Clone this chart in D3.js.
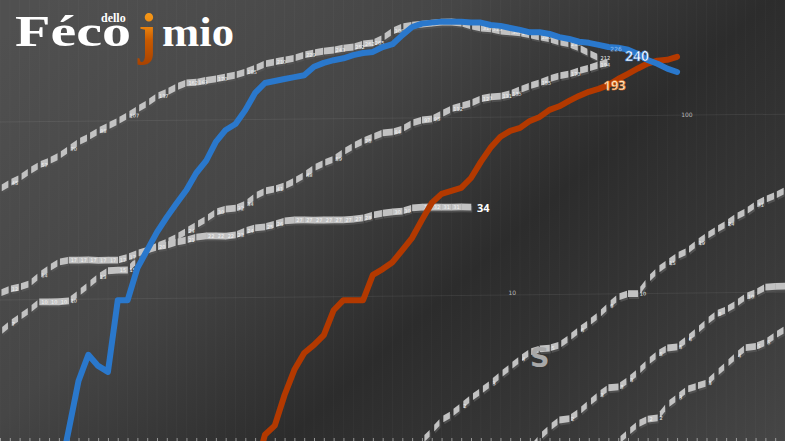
<!DOCTYPE html>
<html><head><meta charset="utf-8">
<script src="https://cdn.jsdelivr.net/npm/d3@7"></script>
<style>html,body{margin:0;padding:0;background:#3a3a3a;overflow:hidden}svg{display:block}</style>
</head><body><svg id="c" width="785" height="441"></svg>
<script>
// ---------- data ----------
const days = d3.range(0, 81);
const yTicks = [10, 100];

const blueStart = 6;
const blueValues = [1.0,1.84,3.47,4.87,4.21,3.89,9.81,9.8,14.85,18.7,23.6,28.6,34.2,40.5,50.4,58.8,75.1,87.6,94.5,113,141,160,164,168,172,176,196,206,213,218,227,233,236,251,260,292,324,338,342,346,345,345,341,340,329,325,316,308,298,298,291,279,272,262,258,251,244,241,235,222,205,195,183,175];
const blueLabel = "240";

const orangeStart = 26;
const orangeValues = [1.06,1.69,1.9,2.82,3.9,4.84,5.37,6.09,8.39,9.54,9.53,9.51,13.2,14.2,15.5,18.1,21.2,26.7,33.2,37.3,38.7,40.2,45.6,56.1,67.4,77.4,83.5,86.6,94.7,99.6,109,114,122,130,137,142,149,161,172,184,196,203,205,213];
const orangeLabel = "193";

const grayAStart = 0;
const grayAValues = [42.1,45.4,48.3,52.8,57,60,64,69.9,76.4,81.4,87.9,93.6,99.6,107,116,125,137,144,154,162,163,167,170,174,178,185,194,205,210,215,220,229,235,240,243,249,252,262,265,282,308,325,332,336,340,344,344,339,326,317,313,304,300,296,288,280,273,262,255,242,226,212];
const grayBStart = 0;
const grayBValues = [6.6,7.33,8.0,8.75,9.7,9.7,9.7,9.8,10.8,12,13.3,14.4,14.5,14.5,16.7,18.7,19.7,20.7,22.1,23.8,25.7,27.8,30.3,31.5,31.8,33.5,37.1,39.6,40.6,42.2,44.9,48.4,53,56.4,59.4,64.9,70.1,74.7,78.6,82.6,83.6,86.7,93.6,97.2,98.4,105,112,116,120,127,130,131,135,142,149,155,163,169,173,180,186,194,201];
const grayCStart = 0;
const grayCValues = [10.9,11.5,11.8,12.3,13.7,15,16.2,16.6,16.6,16.6,16.5,16.5,16.5,17.1,18,18.7,19.5,19.9,20.7,21.2,22,22.3,22.3,22.2,22.5,23.7,24.6,24.9,25.8,26.8,27.1,27.1,27,27,27,27,27.2,27.6,28.6,29.3,29.7,30,31.2,31.5,31.5,31.4,31.4,31.4,31.3];
const grayCLabel = "34";
const grayDStart = 43;
const grayDValues = [1.53,1.74,2.0,2.16,2.39,2.65,2.9,3.2,3.56,3.94,4.36,4.76,4.95,5.0,5.2,5.69,6.3,6.89,7.62,8.58,9.6,10,10,11.9,13.5,14.8,16.2,17.2,19.1,20.9,22.6,24.4,26.7,28.5,31.2,33.3,35,37.4];
const grayEStart = 54;
const grayEValues = [1.35,1.58,1.78,1.97,2.0,2.18,2.44,2.71,2.97,3.0,3.27,3.63,4.12,4.57,4.93,4.99,5.52,6.12,6.87,7.62,8.02,8.67,9.5,10,10.7,10.8,10.8];
const grayFStart = 62;
const grayFValues = [1.29,1.48,1.66,1.85,1.97,2.0,2.36,2.6,2.88,3.0,3.12,3.51,3.94,4.43,4.91,4.98,5.24,5.73,6.2];

// ---------- chart ----------
const W = 785, H = 441;
const svg = d3.select("#c");
const defs = svg.append("defs");

const bg = defs.append("linearGradient").attr("id","bg").attr("gradientUnits","userSpaceOnUse")
  .attr("x1",150).attr("y1",-100).attr("x2",785).attr("y2",600);
[[0,"#505050"],[0.3,"#464646"],[0.52,"#2c2c2c"],[0.75,"#3b3b3b"],[0.92,"#4a4a4a"]]
  .forEach(([o,c]) => bg.append("stop").attr("offset",o).attr("stop-color",c));
const jg = defs.append("linearGradient").attr("id","jg").attr("x1",0).attr("y1",0).attr("x2",0).attr("y2",1);
[[0,"#f7a21e"],[0.35,"#f08a10"],[0.6,"#c85a00"],[1,"#a84200"]].forEach(([o,c]) => jg.append("stop").attr("offset",o).attr("stop-color",c));

svg.append("rect").attr("width",W).attr("height",H).attr("fill","url(#bg)");

const x = d3.scaleLinear().domain([0, 80]).range([0, W]);
const y = d3.scaleLog().domain([1, 1000]).range([471, -63]);

// faint vertical stripes
svg.append("g").selectAll("line").data(days).join("line")
  .attr("x1", d => x(d)).attr("x2", d => x(d)).attr("y1", 0).attr("y2", H)
  .attr("stroke", "rgba(255,255,255,0.028)");

// bottom ticks
const ax = svg.append("g").attr("transform","translate(0,438)")
  .call(d3.axisBottom(x).tickValues(days).tickSize(3).tickFormat(""));
ax.select(".domain").remove();
ax.selectAll("line").attr("stroke","rgba(230,230,230,0.55)");

// plot group with slight perspective tilt
const plot = svg.append("g").attr("transform","matrix(1,-0.01,0,1,0,7)");

plot.append("g").selectAll("line").data(yTicks).join("line")
  .attr("x1",0).attr("x2",W).attr("y1",d=>y(d)).attr("y2",d=>y(d))
  .attr("stroke","rgba(255,255,255,0.07)");

svg.append("g").selectAll("text").data(yTicks).join("text")
  .attr("x", d => d === 100 ? x(70) : x(52.2))
  .attr("y", d => y(d) + 2)
  .attr("font-family","DejaVu Sans, sans-serif").attr("font-size",6)
  .attr("fill","#b8b8b8").attr("text-anchor","middle")
  .text(d => d);

function grayLine(start, values, skipLastLabel) {
  const pts = values.map((v,i) => [x(start+i), y(v), v]);
  const segs = [];
  for (let i = 0; i < pts.length-1; i++) {
    const [x0,y0] = pts[i], [x1,y1] = pts[i+1];
    const dy = Math.abs(y1-y0);
    const gap = dy < 1.5 ? 0 : Math.min(0.5, 0.15 + dy/28);
    const a = gap/2, b = 1-gap/2;
    segs.push([[x0+(x1-x0)*a, y0+(y1-y0)*a],[x0+(x1-x0)*b, y0+(y1-y0)*b]]);
  }
  const h = 3.4;
  const poly = s => `M${s[0][0]},${s[0][1]-h}L${s[1][0]+0.3},${s[1][1]-h}L${s[1][0]+0.3},${s[1][1]+h}L${s[0][0]},${s[0][1]+h}Z`;
  const g = plot.append("g");
  g.append("g").selectAll("path").data(segs).join("path")
    .attr("d", poly).attr("fill","#555555").attr("opacity",0.8).attr("transform","translate(1,2)");
  g.append("g").selectAll("path").data(segs).join("path")
    .attr("d", poly).attr("fill","#c2c2c2");
  const lab = pts.filter((p,i) => i > 0 && p[0] < 772 && p[1] < 428 &&
      !(skipLastLabel && i >= pts.length-2) &&
      (i % 3 === 1 || Math.abs(p[1]-pts[i-1][1]) < 1.5));
  g.append("g").selectAll("text").data(lab).join("text")
    .attr("x", p => p[0]+2).attr("y", p => p[1]+2)
    .attr("font-family","DejaVu Sans, sans-serif").attr("font-size",5)
    .attr("fill","#f2f2f2")
    .text(p => Math.round(p[2]));
  return pts;
}

grayLine(grayAStart, grayAValues);
grayLine(grayBStart, grayBValues);
const ptsC = grayLine(grayCStart, grayCValues, true);
grayLine(grayDStart, grayDValues);
grayLine(grayEStart, grayEValues);
grayLine(grayFStart, grayFValues);

const line = d3.line().x(d => x(d[0])).y(d => y(d[1]));
const blueData = blueValues.map((v,i) => [blueStart+i, v]);
const orangeData = orangeValues.map((v,i) => [orangeStart+i, v]);

plot.append("path").attr("d", line(orangeData)).attr("fill","none")
  .attr("stroke","#b33900").attr("stroke-width",6).attr("stroke-linejoin","round").attr("stroke-linecap","round");
plot.append("path").attr("d", line(blueData)).attr("fill","none")
  .attr("stroke","#2a78cc").attr("stroke-width",6).attr("stroke-linejoin","round").attr("stroke-linecap","round");

// end labels
const lastC = ptsC[ptsC.length-1];
plot.append("text").attr("x", lastC[0]+6).attr("y", lastC[1]+5)
  .attr("font-family","Open Sans, sans-serif").attr("font-weight","bold").attr("font-size",11)
  .attr("fill","#ffffff").text(grayCLabel);

plot.append("text").attr("x", x(63.7)).attr("y", y(240)+13)
  .attr("font-family","Open Sans, sans-serif").attr("font-weight","bold").attr("font-size",14)
  .attr("fill","#ffffff").attr("stroke","#2a78cc").attr("stroke-width",0.6).text(blueLabel);
plot.append("text").attr("x", x(62.2)).attr("y", y(240)+3)
  .attr("font-family","DejaVu Sans, sans-serif").attr("font-size",6)
  .attr("fill","#9cc4f0").text("226");

plot.append("text").attr("x", x(61.5)).attr("y", y(193)+25)
  .attr("font-family","Open Sans, sans-serif").attr("font-weight","bold").attr("font-size",13)
  .attr("fill","#ffe7c4").attr("stroke","#e06a10").attr("stroke-width",0.5).text(orangeLabel);

// stray glyph
svg.append("text").attr("x",530).attr("y",367)
  .attr("font-family","DejaVu Sans, sans-serif").attr("font-weight","bold").attr("font-size",27)
  .attr("fill","#a8a8a8").text("S");

// logo
const logo = svg.append("g");
logo.append("text").attr("x",15).attr("y",46).attr("textLength",116).attr("lengthAdjust","spacingAndGlyphs")
  .attr("font-family","Liberation Serif, serif").attr("font-weight","bold").attr("font-size",44)
  .attr("fill","#ffffff").text("Féco");
logo.append("text").attr("x",101).attr("y",22)
  .attr("font-family","Liberation Serif, serif").attr("font-weight","bold").attr("font-size",12)
  .attr("fill","#ffffff").text("dello");
logo.append("text").attr("x",138).attr("y",53)
  .attr("font-family","Liberation Serif, serif").attr("font-weight","bold").attr("font-size",56)
  .attr("fill","url(#jg)").text("j");
logo.append("text").attr("x",162).attr("y",46).attr("textLength",72).attr("lengthAdjust","spacingAndGlyphs")
  .attr("font-family","Liberation Serif, serif").attr("font-weight","bold").attr("font-size",42)
  .attr("fill","#ffffff").text("mio");
</script>
</body></html>
